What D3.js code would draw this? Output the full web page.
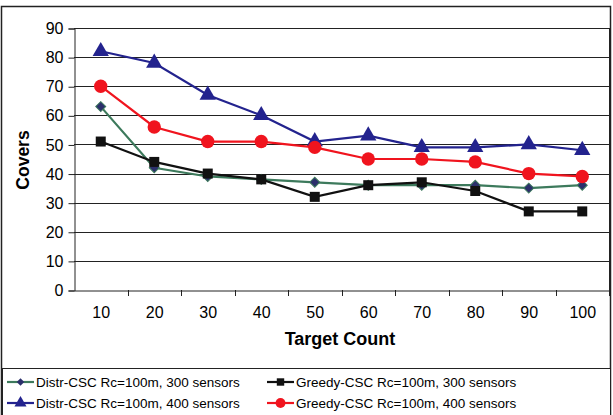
<!DOCTYPE html>
<html>
<head>
<meta charset="utf-8">
<script src="https://cdn.jsdelivr.net/npm/d3@7"></script>
<style>
  body { margin: 0; background: #fff; }
  text { font-family: "Liberation Sans", Arial, sans-serif; fill: #000; }
</style>
</head>
<body>
<svg id="chart" width="613" height="415"></svg>
<script>
// chart data
const targetCounts = ['10', '20', '30', '40', '50', '60', '70', '80', '90', '100']
const distr300 = [63, 42, 39, 38, 37, 36, 36, 36, 35, 36]
const greedy300 = [51, 44, 40, 38, 32, 36, 37, 34, 27, 27]
const distr400 = [82, 78, 67, 60, 51, 53, 49, 49, 50, 48]
const greedy400 = [70, 56, 51, 51, 49, 45, 45, 44, 40, 39]
const yTicks = [0, 10, 20, 30, 40, 50, 60, 70, 80, 90]

const series = [
  { name: 'Distr-CSC Rc=100m, 300 sensors', values: distr300, line: '#3d7a5c', fill: '#2b2f6b', sym: d3.symbolSquare, size: 50, rot: 45 },
  { name: 'Greedy-CSC Rc=100m, 300 sensors', values: greedy300, line: '#111', fill: '#111', sym: d3.symbolSquare, size: 100, rot: 0 },
  { name: 'Distr-CSC Rc=100m, 400 sensors', values: distr400, line: '#23238e', fill: '#23238e', sym: d3.symbolTriangle, size: 115, rot: 0 },
  { name: 'Greedy-CSC Rc=100m, 400 sensors', values: greedy400, line: '#f0141e', fill: '#f0141e', sym: d3.symbolCircle, size: 140, rot: 0 }
]

const svg = d3.select('#chart')

// outer frame
svg.append('rect')
  .attr('x', 1.5).attr('y', 6.5).attr('width', 609).attr('height', 420)
  .attr('fill', 'none').attr('stroke', '#222').attr('stroke-width', 1.5)

const plotL = 74, plotR = 609, plotT = 28, plotB = 290

const x = d3.scaleBand().domain(targetCounts).range([plotL, plotR])
const y = d3.scaleLinear().domain([0, 90]).range([plotB, plotT])

// gridlines
svg.append('g').selectAll('line')
  .data(yTicks.slice(1))
  .enter()
  .append('line')
  .attr('x1', plotL).attr('x2', plotR)
  .attr('y1', d => Math.round(y(d)) + 0.5)
  .attr('y2', d => Math.round(y(d)) + 0.5)
  .attr('stroke', '#222')

// plot border right
svg.append('line').attr('x1', plotR + 0.5).attr('x2', plotR + 0.5).attr('y1', plotT).attr('y2', plotB).attr('stroke', '#222')

// axes
const yAxis = svg.append('g')
  .attr('transform', `translate(${plotL + 0.5},0.5)`)
  .call(d3.axisLeft(y).tickValues(yTicks).tickSize(6).tickPadding(5))
const xAxis = svg.append('g')
  .attr('transform', `translate(0.5,${Math.round(plotB) + 0.5})`)
  .call(d3.axisBottom(x).tickSize(0).tickPadding(16))

yAxis.select('.domain').attr('stroke', '#222')
yAxis.selectAll('line').attr('stroke', '#222')
xAxis.select('.domain').attr('stroke', '#222')
svg.selectAll('.tick text').attr('font-size', 16).attr('font-family', '"Liberation Sans", Arial, sans-serif').attr('fill', '#222')

// x ticks between categories
svg.append('g').selectAll('line')
  .data(targetCounts)
  .enter()
  .append('line')
  .attr('x1', d => Math.round(x(d) + x.bandwidth()) + 0.5)
  .attr('x2', d => Math.round(x(d) + x.bandwidth()) + 0.5)
  .attr('y1', plotB).attr('y2', plotB + 6)
  .attr('stroke', '#222')

// axis titles
svg.append('text')
  .attr('transform', 'translate(29,160) rotate(-90)')
  .attr('text-anchor', 'middle')
  .attr('font-size', 17.5).attr('font-weight', 'bold')
  .text('Covers')
svg.append('text')
  .attr('x', 340).attr('y', 345)
  .attr('text-anchor', 'middle')
  .attr('font-size', 18).attr('font-weight', 'bold')
  .text('Target Count')

// lines and markers
const line = d3.line()
  .x((d, i) => x(targetCounts[i]) + x.bandwidth() / 2)
  .y(d => y(d))

for (let s of series) {
  svg.append('path')
    .datum(s.values)
    .attr('d', line)
    .attr('fill', 'none')
    .attr('stroke', s.line)
    .attr('stroke-width', 2.2)
  svg.append('g').selectAll('path')
    .data(s.values)
    .enter()
    .append('path')
    .attr('d', d3.symbol().type(s.sym).size(s.size))
    .attr('transform', (d, i) => `translate(${x(targetCounts[i]) + x.bandwidth() / 2},${y(d)}) rotate(${s.rot})`)
    .attr('fill', s.fill)
    .attr('stroke', s.rot ? s.line : 'none')
    .attr('stroke-width', 1)
}

// legend
svg.append('rect')
  .attr('x', 2.5).attr('y', 368.5).attr('width', 608).attr('height', 50)
  .attr('fill', '#fff').attr('stroke', '#222')

const legend = svg.append('g').selectAll('g')
  .data(series)
  .enter()
  .append('g')
  .attr('transform', (d, i) => `translate(${i % 2 === 0 ? 7 : 267},${i < 2 ? 382 : 403})`)

legend.append('line')
  .attr('x1', 0).attr('x2', 27)
  .attr('stroke', d => d.line).attr('stroke-width', 2.2)
legend.append('path')
  .attr('d', d => d3.symbol().type(d.sym).size(d.size * 0.55)())
  .attr('transform', d => `translate(13.5,0) rotate(${d.rot})`)
  .attr('fill', d => d.fill)
legend.append('text')
  .attr('x', 29).attr('y', 5)
  .attr('font-size', 13.5)
  .attr('fill', '#222')
  .text(d => d.name)
</script>
</body>
</html>
